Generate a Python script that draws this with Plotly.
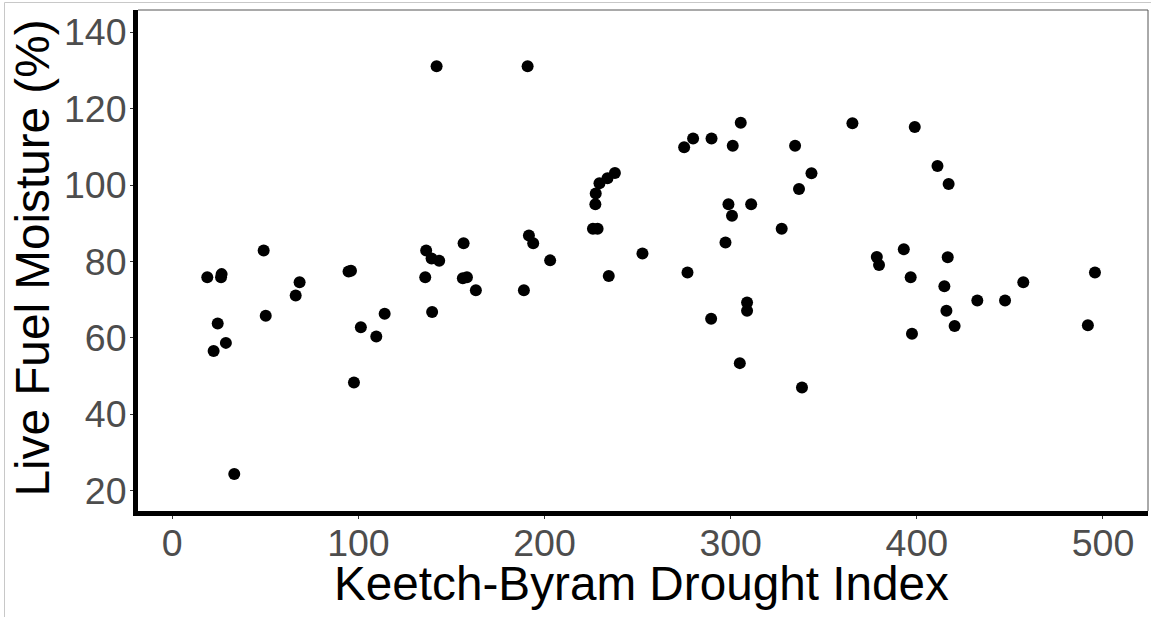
import plotly.graph_objects as go

# Keetch-Byram Drought Index (x) vs Live Fuel Moisture % (y)
kbdi = [18.8, 26.5, 26.2, 49.1, 68.4, 66.3, 24.4, 28.8, 22.2, 50.2,
        33.3, 94.7, 96.0, 101.3, 114.1, 109.6, 97.6, 136.4, 139.3, 143.4,
        135.9, 139.6, 156.5, 156.1, 158.3, 163.1, 142.0, 190.9, 191.6, 193.9,
        203.0, 188.9, 234.5, 252.6, 226.0, 228.5, 227.3, 227.5, 229.5, 233.8,
        237.8, 275.0, 279.8, 289.7, 301.1, 305.4, 334.6, 343.4, 336.7, 298.8,
        300.7, 311.0, 327.4, 297.2, 276.8, 289.5, 308.8, 308.8, 304.9, 338.3,
        365.4, 398.9, 411.1, 417.1, 378.5, 379.7, 393.0, 416.6, 396.7, 414.8,
        432.5, 447.4, 457.2, 495.7, 415.9, 420.3, 397.4, 491.9]
lfm = [75.9, 76.7, 75.9, 82.9, 74.6, 71.1, 63.8, 58.7, 56.6, 65.8,
       24.4, 77.4, 77.6, 62.8, 66.3, 60.4, 48.3, 82.9, 80.8, 80.2,
       75.9, 66.8, 84.8, 75.6, 75.9, 72.5, 131.1, 131.1, 86.8, 84.8,
       80.3, 72.5, 76.2, 82.1, 88.6, 88.6, 95.0, 97.8, 100.5, 101.8,
       103.2, 109.9, 112.2, 112.2, 110.3, 116.3, 110.3, 103.1, 99.0, 95.0,
       92.0, 95.0, 88.6, 85.0, 77.1, 65.0, 69.3, 67.1, 53.4, 47.0,
       116.2, 115.2, 105.0, 100.3, 81.2, 79.1, 83.2, 81.1, 75.9, 73.5,
       69.8, 69.8, 74.6, 77.1, 67.1, 63.1, 61.1, 63.3]

x_ticks = [0, 100, 200, 300, 400, 500]
y_ticks = [20, 40, 60, 80, 100, 120, 140]
x_title = "Keetch-Byram Drought Index"
y_title = "Live Fuel Moisture (%)"

W, H = 1151, 617
L, R, T, B = 138, 3, 10, 106
pw, ph = W - L - R, H - T - B

def px_to_paper_x(px):
    return (px - L) / pw

def px_to_paper_y(py):
    return (H - B - py) / ph

fig = go.Figure(go.Scatter(
    x=kbdi, y=lfm, mode="markers",
    marker=dict(size=12, color="black", line=dict(width=0)),
    cliponaxis=False, showlegend=False,
))

font_family = "Liberation Sans, Arial, sans-serif"
tick_font = dict(family=font_family, size=37.5, color="#4D4D4D")

fig.update_layout(
    width=W, height=H,
    margin=dict(l=L, r=R, t=T, b=B, pad=0),
    paper_bgcolor="white", plot_bgcolor="white",
    xaxis=dict(range=[-18.42, 524.2], tickvals=x_ticks, showgrid=False,
               zeroline=False, showline=True, linewidth=5, linecolor="black",
               ticks="outside", ticklen=3, tickwidth=1, tickcolor="#333333",
               tickfont=tick_font, ticklabelstandoff=-8),
    yaxis=dict(range=[14.69, 145.84], tickvals=y_ticks, showgrid=False,
               zeroline=False, showline=True, linewidth=5, linecolor="black",
               ticks="outside", ticklen=3, tickwidth=1, tickcolor="#333333",
               tickfont=tick_font, ticklabelstandoff=-4),
    shapes=[
        # thin panel border top and right
        dict(type="line", xref="paper", yref="paper", x0=0, x1=1, y0=1, y1=1,
             line=dict(color="#555555", width=1)),
        dict(type="line", xref="paper", yref="paper", x0=1, x1=1, y0=0, y1=1,
             line=dict(color="#555555", width=1)),
        # outer light frame (left and top)
        dict(type="line", xref="paper", yref="paper",
             x0=px_to_paper_x(4.5), x1=px_to_paper_x(4.5),
             y0=px_to_paper_y(2.5), y1=px_to_paper_y(H),
             line=dict(color="#C8C8C8", width=1)),
        dict(type="line", xref="paper", yref="paper",
             x0=px_to_paper_x(4.5), x1=px_to_paper_x(W),
             y0=px_to_paper_y(2.5), y1=px_to_paper_y(2.5),
             line=dict(color="#C8C8C8", width=1)),
    ],
    annotations=[
        dict(text=x_title, xref="paper", yref="paper",
             x=px_to_paper_x(641), y=px_to_paper_y(583),
             xanchor="center", yanchor="middle", showarrow=False,
             font=dict(family=font_family, size=47.7, color="black")),
        dict(text=y_title, xref="paper", yref="paper",
             x=px_to_paper_x(31.5), y=px_to_paper_y(258),
             xanchor="center", yanchor="middle", showarrow=False, textangle=-90,
             font=dict(family=font_family, size=47.7, color="black")),
    ],
)

fig.write_html("out.html")
